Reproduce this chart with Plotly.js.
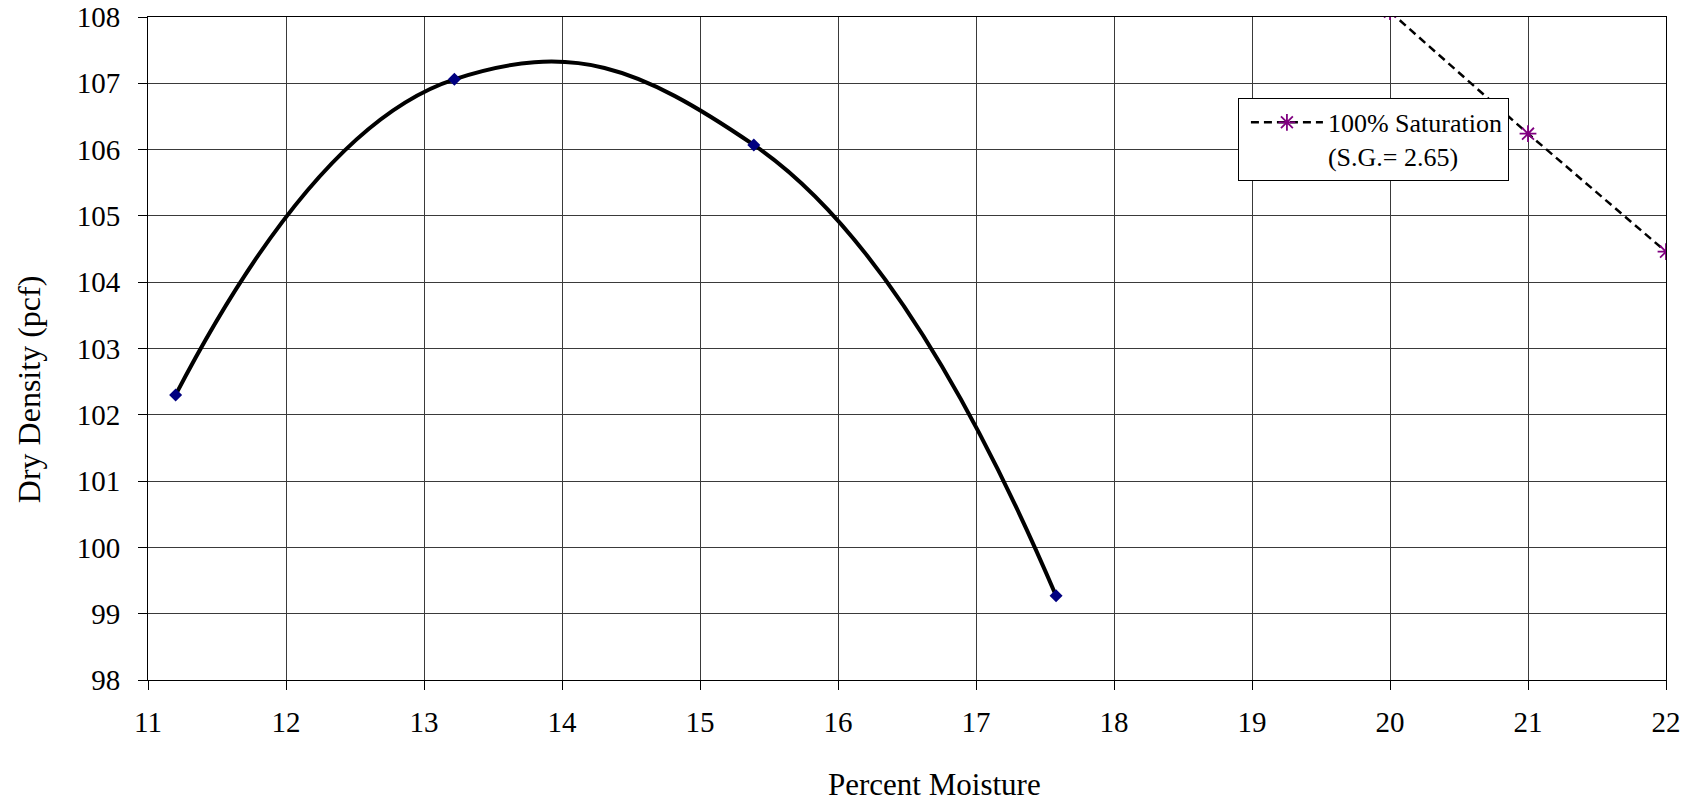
<!DOCTYPE html>
<html>
<head>
<meta charset="utf-8">
<script src="https://cdn.plot.ly/plotly-3.0.1.min.js"></script>
<style>
html, body { margin: 0; padding: 0; background: #fff; }
#chart { width: 1697px; height: 802px; }
</style>
</head>
<body>
<div id="chart"></div>
<script>
// Compaction test points
const moisture = [11.2, 13.22, 15.39, 17.58];
const dryDensity = [102.3, 107.06, 106.07, 99.27];

// 100% saturation (zero air voids) line, S.G. = 2.65
const satMoisture = [20, 21, 22];
const satDensity = [108.08, 106.24, 104.46];

const xTicks = [11, 12, 13, 14, 15, 16, 17, 18, 19, 20, 21, 22];
const yTicks = [98, 99, 100, 101, 102, 103, 104, 105, 106, 107, 108];

const legendLabel = '100% Saturation<br>(S.G.= 2.65)';
const xTitle = 'Percent Moisture';
const yTitle = 'Dry Density (pcf)';

const FONT = '"Liberation Serif", "Times New Roman", serif';

const traces = [
  {
    x: moisture,
    y: dryDensity,
    type: 'scatter',
    mode: 'lines+markers',
    showlegend: false,
    line: { color: '#000000', width: 4, shape: 'spline', smoothing: 1.3 },
    marker: { symbol: 'diamond', color: '#000080', size: 10 }
  },
  {
    x: satMoisture,
    y: satDensity,
    type: 'scatter',
    mode: 'lines+markers',
    name: legendLabel,
    line: { color: '#000000', width: 2.5, dash: '8px,5px' },
    marker: { symbol: 'asterisk', size: 14, color: '#800080', line: { color: '#800080', width: 1.8 } }
  }
];

const axisCommon = {
  showline: true,
  linecolor: '#000000',
  linewidth: 1,
  mirror: true,
  ticks: 'outside',
  ticklen: 9,
  tickcolor: '#000000',
  tickwidth: 1,
  showgrid: true,
  gridcolor: '#3a3a3a',
  gridwidth: 1,
  zeroline: false,
  tickfont: { family: FONT, size: 29, color: '#000000' }
};

const layout = {
  width: 1697,
  height: 802,
  paper_bgcolor: '#ffffff',
  plot_bgcolor: '#ffffff',
  margin: { l: 148, r: 31, t: 17, b: 122 },
  font: { family: FONT, color: '#000000' },
  xaxis: Object.assign({}, axisCommon, {
    range: [11, 22],
    tickvals: xTicks,
    ticktext: xTicks.map(String),
    ticklabelstandoff: 7
  }),
  yaxis: Object.assign({}, axisCommon, {
    range: [98, 108],
    tickvals: yTicks,
    ticktext: yTicks.map(String),
    ticklabelstandoff: 12
  }),
  legend: {
    x: 0.718,
    y: 0.878,
    xanchor: 'left',
    yanchor: 'top',
    bgcolor: '#ffffff',
    bordercolor: '#000000',
    borderwidth: 1,
    valign: 'top',
    itemwidth: 72,
    indentation: 7,
    tracegroupgap: 0,
    font: { family: FONT, size: 26, color: '#000000' }
  },
  annotations: [
    {
      text: xTitle,
      xref: 'paper', yref: 'paper',
      x: 0.518, y: -0.158,
      xanchor: 'center', yanchor: 'middle',
      showarrow: false,
      font: { family: FONT, size: 31, color: '#000000' }
    },
    {
      text: yTitle,
      xref: 'paper', yref: 'paper',
      x: -0.0788, y: 0.4377,
      xanchor: 'center', yanchor: 'middle',
      textangle: -90,
      showarrow: false,
      font: { family: FONT, size: 32, color: '#000000' }
    }
  ]
};

Plotly.newPlot('chart', traces, layout, { displayModeBar: false, staticPlot: true });
</script>
</body>
</html>
